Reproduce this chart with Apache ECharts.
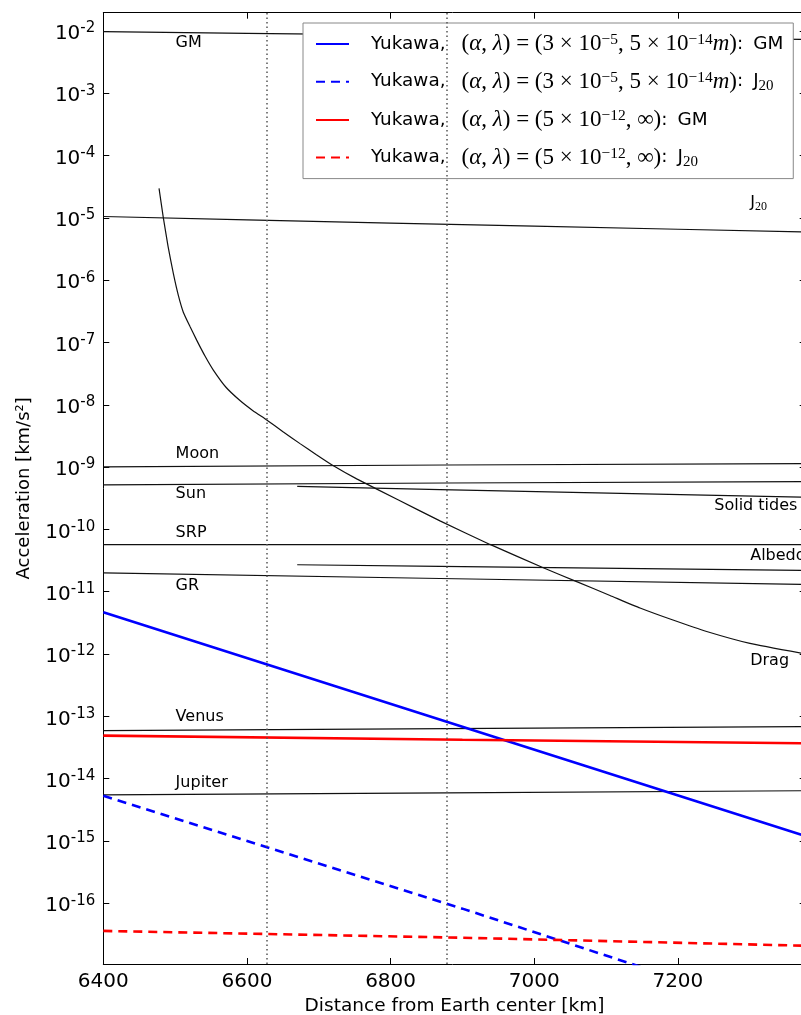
<!DOCTYPE html>
<html><head><meta charset="utf-8">
<script src="https://cdn.jsdelivr.net/npm/echarts@6/dist/echarts.min.js"></script>
<style>html,body{margin:0;padding:0;background:#fff}#c{width:801px;height:1015px}</style>
</head><body><div id="c"></div><script>
// ---- tick values ----
const xTicks = [6400, 6600, 6800, 7000, 7200];
const yTicks = [1e-16, 1e-15, 1e-14, 1e-13, 1e-12, 1e-11, 1e-10, 1e-9, 1e-8, 1e-7, 1e-6, 1e-5, 1e-4, 1e-3, 1e-2];
const altitudeLines = [6628, 6878];

// ---- perturbation accelerations [km/s^2] vs distance [km] ----
const gmX = [6400, 6600, 6800, 7000, 7200, 7378];
const gmY = [9.73e-3, 9.15e-3, 8.62e-3, 8.13e-3, 7.69e-3, 7.32e-3];
const j20X = [6400, 6600, 6800, 7000, 7200, 7378];
const j20Y = [1.05e-5, 9.28e-6, 8.24e-6, 7.34e-6, 6.56e-6, 5.95e-6];
const dragX = [6477.6, 6483.5, 6490.1, 6497.5, 6504.4, 6511.4, 6520.7, 6530, 6541.6, 6553.2, 6570.8, 6590.3, 6608.4, 6627.5, 6650.2, 6673.9, 6696.2, 6718, 6752.8, 6810.3, 6868.8, 6938.4, 7012.6, 7059.1, 7105.5, 7147.3, 7193.2, 7240.1, 7300.4, 7378];
const dragY = [2.97e-5, 1.02e-5, 3.52e-6, 1.28e-6, 5.74e-7, 3.06e-7, 1.8e-7, 1.09e-7, 6.05e-8, 3.6e-8, 1.91e-8, 1.17e-8, 8.04e-9, 5.7e-9, 3.7e-9, 2.38e-9, 1.59e-9, 1.09e-9, 6.47e-10, 2.99e-10, 1.37e-10, 5.74e-11, 2.43e-11, 1.45e-11, 8.71e-12, 5.48e-12, 3.51e-12, 2.3e-12, 1.48e-12, 1.0e-12];
const moonX = [6400, 6878, 7378];
const moonY = [1.01e-9, 1.08e-9, 1.14e-9];
const sunX = [6400, 6878, 7378];
const sunY = [5.2e-10, 5.55e-10, 5.85e-10];
const tidesX = [6670, 6869, 7378];
const tidesY = [4.91e-10, 4.35e-10, 3.28e-10];
const srpX = [6400, 7378];
const srpY = [5.68e-11, 5.68e-11];
const albedoX = [6670, 6869, 7378];
const albedoY = [2.71e-11, 2.55e-11, 2.2e-11];
const grX = [6400, 6869, 7378];
const grY = [2.01e-11, 1.63e-11, 1.31e-11];
const venusX = [6400, 6878, 7378];
const venusY = [5.9e-14, 6.35e-14, 6.84e-14];
const jupiterX = [6400, 6878, 7378];
const jupiterY = [5.47e-15, 5.9e-15, 6.4e-15];
// Yukawa
const yukAX = [6400, 6900, 7378];
const yukAGM = [4.7e-12, 6.8e-14, 1.2e-15];
const yukAJ20 = [5.3e-15, 8.2e-17, 1.3e-18];
const yukBX = [6400, 6900, 7378];
const yukBGM = [4.91e-14, 4.22e-14, 3.69e-14];
const yukBJ20 = [3.6e-17, 2.8e-17, 2.08e-17];

// ---- curve labels: [text, x, y] ----
const annotations = [
  ['GM', 6500, 6.4e-3], ['J20', 7300, 1.73e-5], ['Moon', 6500, 1.64e-9], ['Sun', 6500, 3.74e-10],
  ['SRP', 6500, 8.85e-11], ['GR', 6500, 1.26e-11], ['Solid tides', 7250, 2.43e-10], ['Albedo', 7300, 3.82e-11],
  ['Drag', 7300, 7.66e-13], ['Venus', 6500, 9.9e-14], ['Jupiter', 6500, 8.7e-15]
];

const legendNames = ['yA_GM', 'yA_J20', 'yB_GM', 'yB_J20'];
const legendText = {
  yA_GM: '{t|Yukawa,}{m0|(}{i|α}{m|, }{i|λ}{m|) = (3 × 10}{sup|−5}{m|, 5 × 10}{sup|−14}{i|m}{m|)}{t|:}{g|GM}',
  yA_J20: '{t|Yukawa,}{m0|(}{i|α}{m|, }{i|λ}{m|) = (3 × 10}{sup|−5}{m|, 5 × 10}{sup|−14}{i|m}{m|)}{t|:}{g|J}{sub|20}',
  yB_GM: '{t|Yukawa,}{m0|(}{i|α}{m|, }{i|λ}{m|) = (5 × 10}{sup|−12}{m|, ∞)}{t|:}{g|GM}',
  yB_J20: '{t|Yukawa,}{m0|(}{i|α}{m|, }{i|λ}{m|) = (5 × 10}{sup|−12}{m|, ∞)}{t|:}{g|J}{sub|20}'
};

const yMin = 1.06e-17, yMax = 1.96e-2;
const pairs = (xs, ys) => xs.map((x, i) => [x, ys[i]]);
const FONT = 'DejaVu Sans';
const SERIF = 'Liberation Serif';

function blackLine(xs, ys, smooth) {
  return { type: 'line', data: pairs(xs, ys), symbol: 'none', silent: true, z: 2,
    smooth: smooth ? 0.15 : false,
    lineStyle: { color: '#111', width: 1.2 } };
}
function yukLine(name, xs, ys, color, dashed) {
  return { type: 'line', name, data: pairs(xs, ys), symbol: 'none', silent: true, z: 3,
    itemStyle: { color }, lineStyle: { color, width: 2.6, type: dashed ? [9, 6] : 'solid' } };
}

const axisLineStyle = { show: true, onZero: false, lineStyle: { color: '#000', width: 1 } };

const option = {
  animation: false,
  backgroundColor: '#fff',
  grid: { left: 103.3, right: -4.7, top: 12.7, bottom: 51, containLabel: false, outerBoundsMode: 'none' },
  xAxis: [
    { type: 'value', min: 6400, max: 7378, position: 'bottom',
      axisLine: axisLineStyle,
      axisTick: { show: true, inside: true, length: 6, customValues: xTicks, lineStyle: { color: '#000' } },
      axisLabel: { customValues: xTicks, fontFamily: FONT, fontSize: 20, color: '#000', margin: 8,
        formatter: v => String(v) },
      splitLine: { show: false },
      name: 'Distance from Earth center [km]', nameLocation: 'middle', nameGap: 28,
      nameTextStyle: { fontFamily: FONT, fontSize: 18.5, color: '#000' } },
    { type: 'value', min: 6400, max: 7378, position: 'top',
      axisLine: axisLineStyle,
      axisTick: { show: true, inside: true, length: 6, customValues: xTicks, lineStyle: { color: '#000' } },
      axisLabel: { show: false }, splitLine: { show: false } }
  ],
  yAxis: [
    { type: 'log', logBase: 10, min: yMin, max: yMax, position: 'left',
      axisLine: axisLineStyle,
      axisTick: { show: true, inside: true, length: 6, customValues: yTicks, lineStyle: { color: '#000' } },
      axisLabel: { customValues: yTicks, margin: 8, padding: [6, 0, 0, 0],
        formatter: v => '{b|10}{s|' + Math.round(Math.log10(v)) + '}',
        rich: {
          b: { fontFamily: FONT, fontSize: 20, lineHeight: 26, color: '#000' },
          s: { fontFamily: FONT, fontSize: 15, lineHeight: 15, verticalAlign: 'top', color: '#000' }
        } },
      splitLine: { show: false },
      name: 'Acceleration [km/s²]', nameLocation: 'middle', nameGap: 70, nameRotate: 90,
      nameTextStyle: { fontFamily: FONT, fontSize: 18, color: '#000' } },
    { type: 'log', logBase: 10, min: yMin, max: yMax, position: 'right',
      axisLine: axisLineStyle,
      axisTick: { show: true, inside: true, length: 6, customValues: yTicks, lineStyle: { color: '#000' } },
      axisLabel: { show: false }, splitLine: { show: false } }
  ],
  legend: {
    orient: 'vertical', left: 303, top: 23, padding: [9, 10, 9, 12],
    itemWidth: 33, itemHeight: 14, itemGap: 14.2,
    backgroundColor: '#fff', borderColor: '#888', borderWidth: 1, borderRadius: 0,
    selectedMode: false, data: legendNames,
    itemStyle: { opacity: 0 },
    formatter: n => legendText[n],
    textStyle: { padding: [0, 0, 0, 17], rich: {
      t: { fontFamily: FONT, fontSize: 18.4, lineHeight: 24, color: '#000' },
      g: { fontFamily: FONT, fontSize: 18.4, lineHeight: 24, color: '#000', padding: [0, 0, 0, 10] },
      m0: { fontFamily: SERIF, fontSize: 23, lineHeight: 24, color: '#000', padding: [0, 0, 0, 16] },
      m: { fontFamily: SERIF, fontSize: 23, lineHeight: 24, color: '#000' },
      i: { fontFamily: SERIF, fontStyle: 'italic', fontSize: 23, lineHeight: 24, color: '#000' },
      sup: { fontFamily: SERIF, fontSize: 15.5, lineHeight: 14, verticalAlign: 'top', color: '#000' },
      sub: { fontFamily: SERIF, fontSize: 15, lineHeight: 10, verticalAlign: 'bottom', color: '#000' }
    } }
  },
  series: [
    blackLine(gmX, gmY), blackLine(j20X, j20Y), blackLine(dragX, dragY, true),
    blackLine(moonX, moonY), blackLine(sunX, sunY), blackLine(tidesX, tidesY),
    blackLine(srpX, srpY), blackLine(albedoX, albedoY), blackLine(grX, grY),
    blackLine(venusX, venusY), blackLine(jupiterX, jupiterY),
    yukLine('yA_GM', yukAX, yukAGM, '#0000ff', false),
    yukLine('yA_J20', yukAX, yukAJ20, '#0000ff', true),
    yukLine('yB_GM', yukBX, yukBGM, '#ff0000', false),
    yukLine('yB_J20', yukBX, yukBJ20, '#ff0000', true),
    { type: 'line', data: [], silent: true, symbol: 'none',
      markLine: { silent: true, symbol: ['none', 'none'], label: { show: false }, z: 6,
        lineStyle: { color: '#555', type: [1.5, 3], width: 1.5 },
        data: altitudeLines.map(x => ({ xAxis: x })) } },
    { type: 'scatter', silent: true, z: 4, symbolSize: 1, itemStyle: { color: 'rgba(0,0,0,0)' },
      data: annotations.map(a => ({ name: a[0], value: [a[1], a[2]] })),
      label: { show: true, position: 'right', distance: 0, opacity: 1,
        fontFamily: FONT, fontSize: 16, color: '#000',
        formatter: p => p.name === 'J20' ? '{j|J}{js|20}' : p.name,
        rich: {
          j: { fontFamily: FONT, fontSize: 16, lineHeight: 20, color: '#000' },
          js: { fontFamily: SERIF, fontSize: 12, lineHeight: 8, verticalAlign: 'bottom', color: '#000' }
        } } }
  ]
};
const chart = echarts.init(document.getElementById('c'), null, { renderer: 'canvas' });
chart.setOption(option);
</script></body></html>
